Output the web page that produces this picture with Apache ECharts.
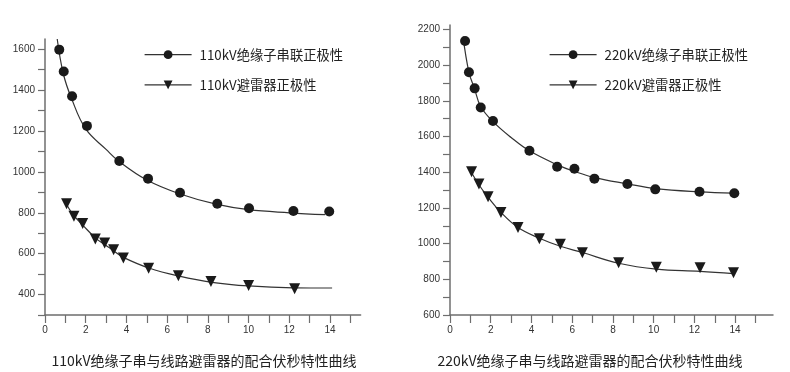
<!DOCTYPE html>
<html><head><meta charset="utf-8">
<script src="https://cdn.jsdelivr.net/npm/echarts@6/dist/echarts.min.js"></script>
<style>html,body{margin:0;padding:0;background:#fff}#c{width:790px;height:372px}</style>
</head><body><div id="c"></div>
<script>
// ---- data ----
const L_ins_name = '110kV绝缘子串联正极性';
const L_arr_name = '110kV避雷器正极性';
const R_ins_name = '220kV绝缘子串联正极性';
const R_arr_name = '220kV避雷器正极性';
const L_title = '110kV绝缘子串与线路避雷器的配合伏秒特性曲线';
const R_title = '220kV绝缘子串与线路避雷器的配合伏秒特性曲线';

const L_ins_x = [0.70,0.92,1.33,2.06,3.65,5.06,6.63,8.46,10.02,12.2,13.96];
const L_ins_y = [1598,1491,1370,1225,1053,967,898,844,822,809,806];
const L_ins_fit_x = [0.6,0.9,1.3,2.0,3.0,3.65,5.0,6.6,8.4,10,12,13.75];
const L_ins_fit_y = [1650,1480,1360,1210,1110,1050,960,893,842,815,800,791];
const L_arr_x = [1.06,1.42,1.85,2.47,2.93,3.37,3.85,5.09,6.55,8.15,10.0,12.26];
const L_arr_y = [844,783,747,672,652,619,579,529,492,464,444,429];
const L_arr_fit_x = [1.0,1.4,1.85,2.5,3.0,3.4,3.85,5.1,6.6,8.2,10,12.2,14.1];
const L_arr_fit_y = [850,788,740,675,640,612,582,530,490,460,442,433,432];

const R_ins_x = [0.74,0.93,1.21,1.51,2.11,3.90,5.26,6.11,7.09,8.71,10.08,12.25,13.96];
const R_ins_y = [2135,1960,1870,1763,1687,1520,1431,1420,1364,1334,1304,1291,1282];
const R_ins_fit_x = [0.64,0.93,1.2,1.5,2.1,3.0,3.9,5.3,6.1,7.1,8.7,10.1,12.25,13.9];
const R_ins_fit_y = [2160,1960,1870,1770,1685,1595,1520,1440,1405,1370,1335,1308,1290,1283];
const R_arr_x = [1.06,1.42,1.87,2.50,3.34,4.39,5.42,6.50,8.28,10.13,12.28,13.92];
const R_arr_y = [1403,1334,1263,1175,1091,1027,996,949,893,867,865,837];
const R_arr_fit_x = [1.0,1.42,1.87,2.5,3.34,4.39,5.42,6.5,8.28,10.13,12.28,13.92];
const R_arr_fit_y = [1410,1330,1260,1175,1090,1030,985,950,890,857,845,832];

const xTicks = [0,1,2,3,4,5,6,7,8,9,10,11,12,13,14,15];
const xLabels = [0,2,4,6,8,10,12,14];
const L_yTicks = [300,400,500,600,700,800,900,1000,1100,1200,1300,1400,1500,1600];
const L_yLabels = [400,600,800,1000,1200,1400,1600];
const R_yTicks = [600,700,800,900,1000,1100,1200,1300,1400,1500,1600,1700,1800,1900,2000,2100,2200];
const R_yLabels = [600,800,1000,1200,1400,1600,1800,2000,2200];

// ---- chart ----
const zip = (a, b) => a.map((v, i) => [v, b[i]]);
const AX = '#6e6e6e', INK = '#1a1a1a', LINE = '#333';
const font = '"Liberation Sans", Arial, sans-serif';
const cjk = '"Noto Sans CJK SC", "Liberation Sans", sans-serif';
const plain = v => String(v);

function xAxis(gi, max) {
  return {
    type: 'value', gridIndex: gi, min: 0, max: max,
    axisLine: {lineStyle: {color: AX, width: 1.5}},
    axisTick: {customValues: xTicks, length: 8, lineStyle: {color: AX, width: 1.2}},
    axisLabel: {customValues: xLabels, formatter: plain, color: '#333', fontSize: 10, fontFamily: font, margin: 10},
    splitLine: {show: false}
  };
}
function yAxis(gi, min, max, ticks, labels) {
  return {
    type: 'value', gridIndex: gi, min: min, max: max,
    axisLine: {show: true, lineStyle: {color: AX, width: 1.5}},
    axisTick: {show: true, customValues: ticks, length: 7, lineStyle: {color: AX, width: 1.2}},
    axisLabel: {customValues: labels, formatter: plain, color: '#333', fontSize: 10, fontFamily: font, margin: 10},
    splitLine: {show: false}
  };
}
function pts(name, gi, xs, ys, sym) {
  return {
    name: name, type: 'line', xAxisIndex: gi, yAxisIndex: gi,
    data: zip(xs, ys), symbol: sym, symbolSize: sym === 'circle' ? 10 : 11,
    symbolRotate: sym === 'triangle' ? 180 : 0, showAllSymbol: true,
    itemStyle: {color: INK}, lineStyle: {opacity: 0}, z: 5, silent: true
  };
}
function fit(gi, xs, ys) {
  return {
    type: 'line', xAxisIndex: gi, yAxisIndex: gi, data: zip(xs, ys),
    smooth: 0.4, symbol: 'none', lineStyle: {color: LINE, width: 1.2}, z: 3, silent: true
  };
}
function legend(left, names) {
  return {
    orient: 'vertical', left: left, top: 43, itemWidth: 47, itemHeight: 11, itemGap: 17,
    data: names, selectedMode: false,
    lineStyle: {opacity: 1, color: LINE, width: 1.2},
    textStyle: {fontSize: 13.3, color: '#222', fontFamily: cjk, padding: [0, 0, 0, 3]}
  };
}

const chart = echarts.init(document.getElementById('c'), null, {renderer: 'canvas'});
chart.setOption({
  backgroundColor: '#fff',
  animation: false,
  title: [
    {text: L_title, left: 199, top: 349, textAlign: 'center',
     textStyle: {fontSize: 14, fontWeight: 'normal', color: '#222', fontFamily: cjk}},
    {text: R_title, left: 585, top: 349, textAlign: 'center',
     textStyle: {fontSize: 14, fontWeight: 'normal', color: '#222', fontFamily: cjk}}
  ],
  legend: [legend(139, [L_ins_name, L_arr_name]), legend(544, [R_ins_name, R_arr_name])],
  grid: [
    {left: 45, top: 39, width: 315.6, height: 276},
    {left: 450, top: 25, width: 323, height: 290}
  ],
  xAxis: [xAxis(0, 15.5), xAxis(1, 15.86)],
  yAxis: [yAxis(0, 300, 1650, L_yTicks, L_yLabels), yAxis(1, 600, 2225, R_yTicks, R_yLabels)],
  series: [
    fit(0, L_ins_fit_x, L_ins_fit_y),
    fit(0, L_arr_fit_x, L_arr_fit_y),
    fit(1, R_ins_fit_x, R_ins_fit_y),
    fit(1, R_arr_fit_x, R_arr_fit_y),
    pts(L_ins_name, 0, L_ins_x, L_ins_y, 'circle'),
    pts(L_arr_name, 0, L_arr_x, L_arr_y, 'triangle'),
    pts(R_ins_name, 1, R_ins_x, R_ins_y, 'circle'),
    pts(R_arr_name, 1, R_arr_x, R_arr_y, 'triangle')
  ]
});
</script></body></html>
